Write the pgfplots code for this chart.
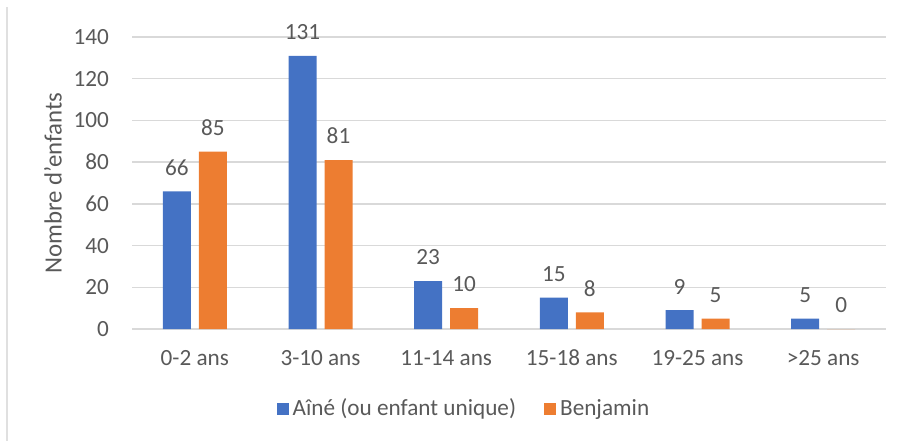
\documentclass[border=0pt]{standalone}
\usepackage{fontspec}
\setmainfont{Carlito}
\usepackage{pgfplots}
\pgfplotsset{compat=1.18}
\definecolor{xblue}{HTML}{4472C4}
\definecolor{xorange}{HTML}{ED7D31}
\definecolor{gridgray}{HTML}{D9D9D9}
\definecolor{txtgray}{HTML}{595959}
\begin{document}
\fontsize{11.6pt}{13.9pt}\selectfont
\begin{tikzpicture}
\path[use as bounding box] (0,0) rectangle (450pt,220.5pt);
\draw[line width=0.6pt, color=black!12] (3.5pt,0) -- (3.5pt,217pt);
\begin{axis}[
  at={(66pt,56pt)}, anchor=south west,
  scale only axis, width=377pt, height=146pt,
  ymin=0, ymax=140, xmin=-0.5, xmax=5.5,
  ytick={0,20,...,140},
  xtick={0,...,5},
  xticklabels={0-2 ans, 3-10 ans, 11-14 ans, 15-18 ans, 19-25 ans, {>25 ans}},
  /pgf/number format/assume math mode=true,
  ymajorgrids, grid style={color=gridgray, line width=0.7pt},
  axis x line*=bottom, axis y line*=left,
  axis line style={draw=none}, major tick length=0pt,
  tick label style={font=\fontsize{11.6pt}{13.9pt}\selectfont, color=txtgray},
  yticklabel style={xshift=-7.5pt},
  xticklabel style={yshift=-6.5pt},
  ylabel={Nombre d'enfants},
  every axis y label/.style={at={(axis description cs:0,0.5)}, xshift=-39.5pt, rotate=90, anchor=center, color=txtgray, font=\fontsize{12.4pt}{14.9pt}\selectfont},
  ybar=4pt, bar width=14pt,
  nodes near coords,
  every node near coord/.append style={color=txtgray, yshift=4pt, font=\fontsize{11.6pt}{13.9pt}\selectfont},
  legend style={at={(axis description cs:0.4416,-0.274)}, anchor=center, legend columns=2, draw=none, fill=none, font=\fontsize{11.6pt}{13.9pt}\selectfont, text=txtgray, /tikz/every even column/.append style={column sep=12pt}},
  legend image code/.code={\fill[#1] (0pt,-3pt) rectangle (6pt,3pt);},
]
\addplot[fill=xblue, draw=none] coordinates {(0,66) (1,131) (2,23) (3,15) (4,9) (5,5)};
\addplot[fill=xorange, draw=none] coordinates {(0,85) (1,81) (2,10) (3,8) (4,5) (5,0)};
\legend{Aîné (ou enfant unique), Benjamin}
\end{axis}
\end{tikzpicture}
\end{document}
